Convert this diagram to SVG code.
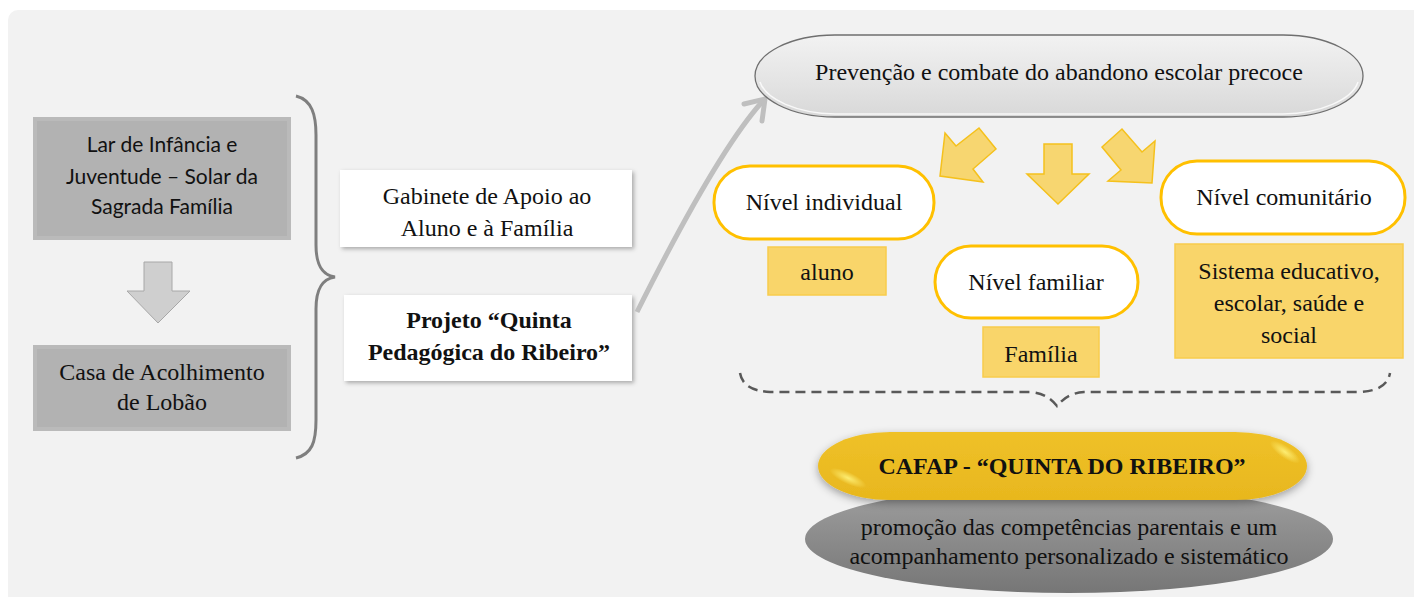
<svg xmlns="http://www.w3.org/2000/svg" width="1414" height="597" viewBox="0 0 1414 597">
<defs>
<style>
.serif{font-family:"Liberation Serif","Times New Roman",serif;font-size:24px;fill:#111;text-anchor:middle}
.bold{font-weight:bold}
.sans{font-family:Lato,"Liberation Sans",sans-serif;font-size:21px;fill:#111;text-anchor:middle}
.lvl{fill:#fff;stroke:#ffc000;stroke-width:3}
.ybox{fill:#f9d56a;stroke:#f8cc4c;stroke-width:1.5}
.yarrow{fill:#f7d670;stroke:#f5c11c;stroke-width:1.5;stroke-linejoin:miter}
.wbox{fill:#fff;filter:url(#sh)}
.bev-out{fill:#bababa}
.bev-in{fill:#b2b2b2}
</style>
<filter id="sh" x="-10%" y="-20%" width="120%" height="140%">
<feDropShadow dx="2" dy="2" stdDeviation="2" flood-color="#000" flood-opacity="0.3"/>
</filter>
<filter id="sh2" x="-10%" y="-30%" width="120%" height="160%">
<feDropShadow dx="0" dy="3" stdDeviation="4" flood-color="#000" flood-opacity="0.35"/>
</filter>
<linearGradient id="gTop" x1="0" y1="0" x2="0" y2="1">
<stop offset="0" stop-color="#f2f2f2"/>
<stop offset="0.6" stop-color="#e3e3e3"/>
<stop offset="1" stop-color="#d8d8d8"/>
</linearGradient>
<linearGradient id="gYel" x1="0" y1="0" x2="0" y2="1">
<stop offset="0" stop-color="#efc128"/>
<stop offset="1" stop-color="#e8b71e"/>
</linearGradient>
<linearGradient id="gGray" x1="0" y1="0" x2="0" y2="1">
<stop offset="0" stop-color="#a0a0a0"/>
<stop offset="1" stop-color="#767676"/>
</linearGradient>
<radialGradient id="gHi" cx="0.5" cy="0.5" r="0.5">
<stop offset="0" stop-color="#fff27a" stop-opacity="0.9"/>
<stop offset="1" stop-color="#fff27a" stop-opacity="0"/>
</radialGradient>
</defs>

<rect x="0" y="0" width="1414" height="597" fill="#fff"/>
<rect x="8" y="10" width="1420" height="600" rx="10" fill="#f2f2f2"/>

<g id="node-lar">
<rect class="bev-out" x="33" y="117" width="258" height="123"/>
<rect class="bev-in" x="37" y="121" width="250" height="115"/>
<text class="sans" x="162" y="152">Lar de Infância e</text>
<text class="sans" x="162" y="184">Juventude – Solar da</text>
<text class="sans" x="162" y="214">Sagrada Família</text>
</g>

<g id="node-down-arrow">
<polygon points="144,262 172,262 172,291 190,291 158,323 127,291 144,291" fill="#cfcfcf" stroke="#a8a8a8" stroke-width="1"/>
</g>

<g id="node-casa">
<rect class="bev-out" x="33" y="345" width="258" height="86"/>
<rect class="bev-in" x="37" y="349" width="250" height="78"/>
<text class="serif" x="162" y="380">Casa de Acolhimento</text>
<text class="serif" x="162" y="410">de Lobão</text>
</g>

<g id="node-brace">
<path d="M296,96 C312,100 316,115 316,135 L316,245 C316,265 322,275 335,277 C322,279 316,289 316,309 L316,420 C316,442 312,454 296,458" fill="none" stroke="#7f7f7f" stroke-width="3"/>
</g>

<g id="node-gabinete">
<rect class="wbox" x="340" y="170" width="292" height="77"/>
<text class="serif" x="487" y="204">Gabinete de Apoio ao</text>
<text class="serif" x="487" y="236">Aluno e à Família</text>
</g>

<g id="node-projeto">
<rect class="wbox" x="344" y="295" width="288" height="86"/>
<text class="serif bold" x="489" y="328">Projeto “Quinta</text>
<text class="serif bold" x="489" y="360">Pedagógica do Ribeiro”</text>
</g>

<g id="connectors">
<path d="M637,312 Q717,152 762,102" fill="none" stroke="#bfbfbf" stroke-width="5"/>
<polyline points="744,104 765,99 762,121" fill="none" stroke="#bfbfbf" stroke-width="5" stroke-linecap="round" stroke-linejoin="round"/>
<path d="M740,373 C742,385 752,391 770,392 L1030,392 C1045,393 1052,400 1057,406 C1062,400 1069,393 1084,392 L1360,392 C1378,391 1388,385 1390,373" fill="none" stroke="#595959" stroke-width="2.5" stroke-dasharray="10,6"/>
</g>

<g id="node-prevencao">
<path d="M835,35 L1283,35 A80,41 0 0 1 1283,117 L835,117 A80,41 0 0 1 835,35 Z" fill="url(#gTop)" stroke="#6f6f6f" stroke-width="1.3"/>
<path d="M760,82 A80,38 0 0 0 835,114 L1283,114 A80,38 0 0 0 1358,82" fill="none" stroke="#ffffff" stroke-width="1.5" opacity="0.8"/>
<text class="serif" x="1059" y="80">Prevenção e combate do abandono escolar precoce</text>
</g>

<g id="node-yellow-arrows">
<polygon class="yarrow" points="945,133 956,146 979,128 996,149 973,169 983,182 940,176"/>
<polygon class="yarrow" points="1044,144 1072,144 1072,174 1089,174 1058,204 1027,174 1044,174"/>
<polygon class="yarrow" points="1102,147 1122,129 1142,152 1155,141 1152,183 1108,181 1121,170"/>
</g>

<g id="node-individual">
<rect class="lvl" x="714" y="166" width="220" height="73" rx="36"/>
<text class="serif" x="824" y="210">Nível individual</text>
</g>
<g id="node-aluno">
<rect class="ybox" x="768" y="247" width="118" height="48"/>
<text class="serif" x="827" y="280">aluno</text>
</g>

<g id="node-familiar">
<rect class="lvl" x="935" y="246" width="203" height="72" rx="36"/>
<text class="serif" x="1036" y="290">Nível familiar</text>
</g>
<g id="node-familia">
<rect class="ybox" x="983" y="327" width="116" height="50"/>
<text class="serif" x="1041" y="362">Família</text>
</g>

<g id="node-comunitario">
<rect class="lvl" x="1161" y="161" width="244" height="73" rx="36"/>
<text class="serif" x="1284" y="205">Nível comunitário</text>
</g>
<g id="node-sistema">
<rect class="ybox" x="1175" y="244" width="228" height="114"/>
<text class="serif" x="1289" y="279">Sistema educativo,</text>
<text class="serif" x="1289" y="311">escolar, saúde e</text>
<text class="serif" x="1289" y="343">social</text>
</g>

<g id="node-promocao">
<ellipse cx="1069" cy="539" rx="264" ry="54" fill="url(#gGray)"/>
<text class="serif" x="1069" y="535">promoção das competências parentais e um</text>
<text class="serif" x="1069" y="564">acompanhamento personalizado e sistemático</text>
</g>

<g id="node-cafap">
<path d="M890,432 L1235,432 A72,34 0 0 1 1235,500 L890,500 A72,34 0 0 1 890,432 Z" fill="url(#gYel)" filter="url(#sh2)"/>
<ellipse cx="848" cy="478" rx="20" ry="6" fill="url(#gHi)" transform="rotate(25 848 478)"/>
<ellipse cx="1285" cy="452" rx="18" ry="6" fill="url(#gHi)" transform="rotate(35 1285 452)"/>
<text class="serif bold" x="1062" y="474">CAFAP - “QUINTA DO RIBEIRO”</text>
</g>
</svg>
